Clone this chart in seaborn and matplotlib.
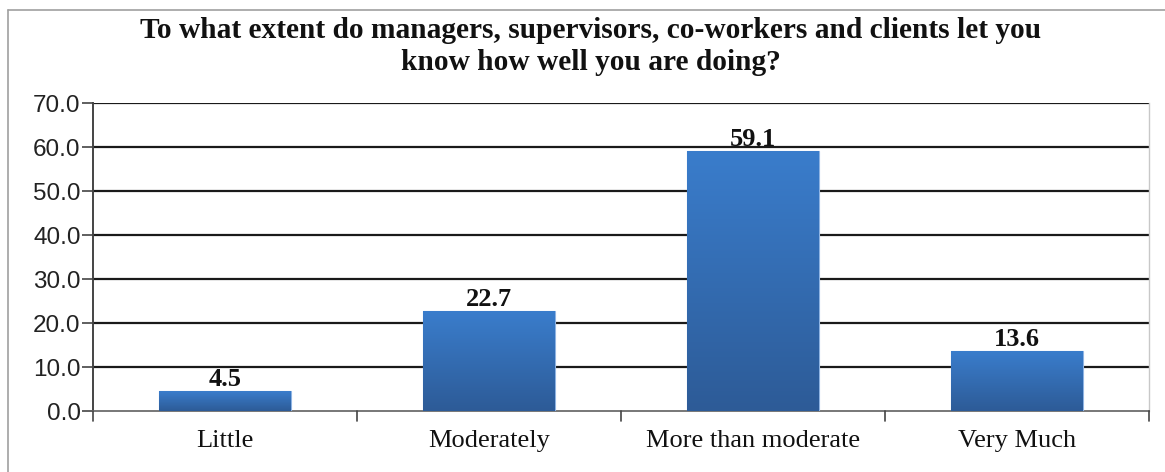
import matplotlib
matplotlib.use("Agg")
import matplotlib.pyplot as plt
import seaborn as sns
import numpy as np
import pandas as pd
from matplotlib.colors import LinearSegmentedColormap

categories = ["Little", "Moderately", "More than moderate", "Very Much"]
values = [4.5, 22.7, 59.1, 13.6]
value_labels = ["4.5", "22.7", "59.1", "13.6"]
yticks = [0, 10, 20, 30, 40, 50, 60, 70]
title = ("To what extent do managers, supervisors, co-workers and clients let you\n"
         "know how well you are doing?")

sns.set_theme(style="white")
plt.rcParams['font.family'] = ['Liberation Serif', 'DejaVu Serif']

df = pd.DataFrame({"cat": categories, "val": values})

fig = plt.figure(figsize=(11.65, 4.72), dpi=100)
ax = fig.add_axes([93/1165, 1 - 411/472, (1149-93)/1165, (411-103)/472])

sns.barplot(data=df, x="cat", y="val", ax=ax, color="#3571b8", width=0.5,
            edgecolor="#8fb4e3", linewidth=0.8, zorder=3)

# gradient fill on bars
cmap = LinearSegmentedColormap.from_list("g", ["#2d5b97", "#3a7dcc"])
grad = np.linspace(0, 1, 256).reshape(-1, 1)
for p in ax.patches:
    x0, y0 = p.get_x(), p.get_y()
    w, h = p.get_width(), p.get_height()
    im = ax.imshow(grad, cmap=cmap, origin="lower", aspect="auto",
                   extent=[x0, x0 + w, y0, y0 + h], zorder=3.5)
    im.set_clip_path(p)
ax.set_xlim(-0.5, len(categories) - 0.5)
ax.set_ylim(0, 70)

# gridlines
for yv in yticks[1:]:
    ax.axhline(yv, color="#1a1a1a", linewidth=1.6, zorder=1)

ax.set_yticks(yticks)
ax.set_yticklabels([f"{v:.1f}" for v in yticks], family="Liberation Sans",
                   fontsize=17.5, color="#222222")
ax.set_xticks(range(len(categories)))
ax.set_xticklabels(categories, fontsize=19, color="#111111")
ax.tick_params(axis="x", length=0, pad=14)
ax.tick_params(axis="y", length=8, width=1.2, color="#444444", direction="out", pad=1, left=True)

# boundary tick marks on x axis
for b in np.arange(-0.5, len(categories), 1.0):
    ax.plot([b, b], [0, -2.3], color="#444444", linewidth=1.2, clip_on=False, zorder=4)

ax.spines["top"].set_visible(False)
ax.spines["left"].set_color("#444444")
ax.spines["left"].set_linewidth(1.4)
ax.spines["bottom"].set_color("#777777")
ax.spines["bottom"].set_linewidth(1.4)
ax.spines["right"].set_color("#c8c8c8")
ax.spines["right"].set_linewidth(1.0)
ax.set_xlabel("")
ax.set_ylabel("")

for i, (v, lab) in enumerate(zip(values, value_labels)):
    ax.text(i, v + 0.1, lab, ha="center", va="bottom", fontsize=19,
            fontweight="bold", color="#111111", zorder=5)

fig.text(591/1165, 1 - 46.5/472, title, ha="center", va="center", fontsize=21.2,
         fontweight="bold", color="#111111", linespacing=1.26)

# figure frame (top and left grey lines)
fig.add_artist(plt.Line2D([8/1165, 1], [1 - 10/472, 1 - 10/472], color="#a0a0a0", linewidth=1.2,
                          transform=fig.transFigure))
fig.add_artist(plt.Line2D([8/1165, 8/1165], [0, 1 - 10/472], color="#a0a0a0", linewidth=1.2,
                          transform=fig.transFigure))

fig.savefig("out.png", dpi=100)
